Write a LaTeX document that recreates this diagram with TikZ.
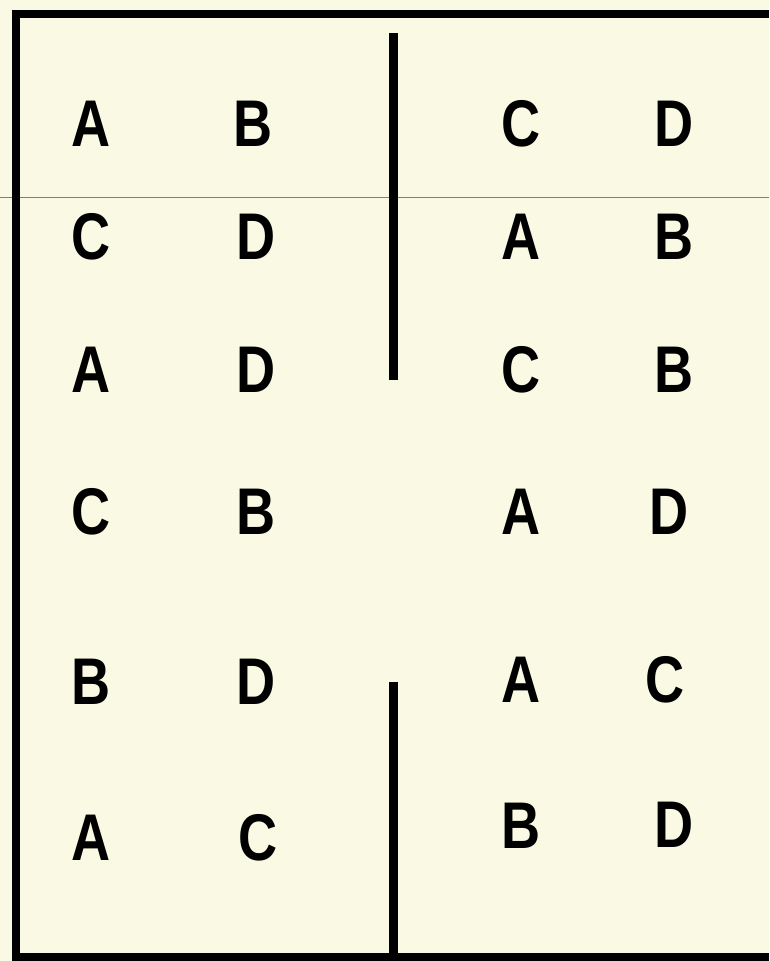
\documentclass[tikz,border=0pt]{standalone}
\usepackage{fontspec}
\setmainfont{Liberation Sans}
\definecolor{bg}{HTML}{FAF9E4}
\definecolor{rule}{HTML}{A07850}
\begin{document}
\begin{tikzpicture}[x=1pt,y=-1pt,
  lett/.style={inner sep=0pt,font=\fontsize{66}{66}\selectfont\bfseries,xscale=0.82,anchor=center},
  wall/.style={line width=9pt,black},
  frame/.style={line width=8pt,black}]
\fill[bg] (0,0) rectangle (769,961);
\useasboundingbox (0,0) rectangle (769,961);
% thin brown rule
\coordinate (r1) at (0,197.5);
\coordinate (r2) at (769,197.5);
\draw[rule,line width=1.8pt] (r1) -- (r2);
% frame
\coordinate (tl) at (16,14);
\coordinate (tr) at (769,14);
\coordinate (bl) at (16,957);
\coordinate (br) at (769,957);
\draw[frame] (tr) -- (tl) -- (bl) -- (br);
% walls
\coordinate (w1a) at (393,33);
\coordinate (w1b) at (393,380);
\coordinate (w2a) at (393,682);
\coordinate (w2b) at (393,961);
\draw[wall] (w1a) -- (w1b);
\draw[wall] (w2a) -- (w2b);
% letters
\node[lett] (a1) at (91,124) {A};
\node[lett] (b1) at (253,124) {B};
\node[lett] (c1) at (521,124) {C};
\node[lett] (d1) at (674,124) {D};
\node[lett] (a2) at (91,237) {C};
\node[lett] (b2) at (256,237) {D};
\node[lett] (c2) at (521,237) {A};
\node[lett] (d2) at (674,237) {B};
\node[lett] (a3) at (91,370) {A};
\node[lett] (b3) at (256,370) {D};
\node[lett] (c3) at (521,370) {C};
\node[lett] (d3) at (674,370) {B};
\node[lett] (a4) at (91,512) {C};
\node[lett] (b4) at (256,512) {B};
\node[lett] (c4) at (521,512) {A};
\node[lett] (d4) at (669,512) {D};
\node[lett] (a5) at (91,682) {B};
\node[lett] (b5) at (256,682) {D};
\node[lett] (c5) at (521,680) {A};
\node[lett] (d5) at (665,680) {C};
\node[lett] (a6) at (91,838) {A};
\node[lett] (b6) at (258,838) {C};
\node[lett] (c6) at (521,826) {B};
\node[lett] (d6) at (674,825) {D};
\end{tikzpicture}
\end{document}
